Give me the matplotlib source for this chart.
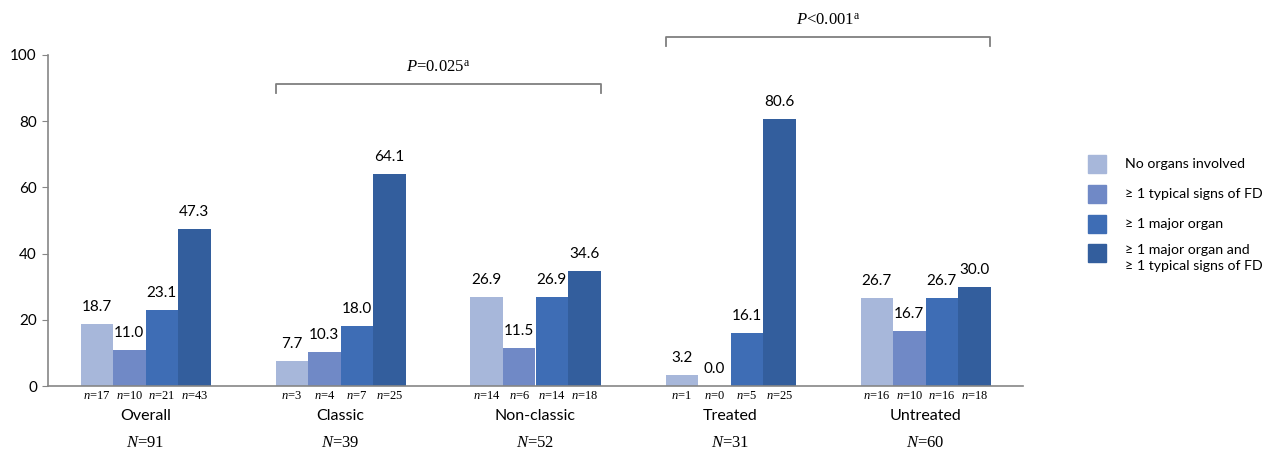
import matplotlib
matplotlib.use("Agg")
import matplotlib.pyplot as plt
from matplotlib.patches import Rectangle
import numpy as np

# ---- data ----
groups = ["Overall", "Classic", "Non-classic", "Treated", "Untreated"]
group_N = [91, 39, 52, 31, 60]
series_names = ["No organs involved", "\u2265 1 typical signs of FD",
                "\u2265 1 major organ", "\u2265 1 major organ and\n\u2265 1 typical signs of FD"]
no_organs = [18.7, 7.7, 26.9, 3.2, 26.7]
typical_signs = [11.0, 10.3, 11.5, 0.0, 16.7]
major_organ = [23.1, 18.0, 26.9, 16.1, 26.7]
major_and_typical = [47.3, 64.1, 34.6, 80.6, 30.0]
n_no_organs = [17, 3, 14, 1, 16]
n_typical = [10, 4, 6, 0, 10]
n_major = [21, 7, 14, 5, 16]
n_both = [43, 25, 18, 25, 18]
p_labels = ["$P$=0.025$^{\\mathrm{a}}$", "$P$<0.001$^{\\mathrm{a}}$"]
p_pairs = [(1, 2), (3, 4)]
y_ticks = [0, 20, 40, 60, 80, 100]

colors = ["#A7B7DA", "#7089C6", "#3E6DB5", "#335E9D"]

plt.rcParams['mathtext.fontset'] = 'custom'
plt.rcParams['mathtext.rm'] = 'Liberation Serif'
plt.rcParams['mathtext.it'] = 'Liberation Serif:italic'
SANS = 'Lato'
SERIF = 'Liberation Serif'

fig = plt.figure(figsize=(12.69, 4.5), dpi=100)
ax = fig.add_axes([48/1269, 64/450, (1023-48)/1269, (386-55)/450])

series = [no_organs, typical_signs, major_organ, major_and_typical]
counts = [n_no_organs, n_typical, n_major, n_both]
x = np.arange(len(groups)) + 0.5
w = 1/6
for i, (vals, cnts) in enumerate(zip(series, counts)):
    pos = x + (i - 1.5) * w
    ax.bar(pos, vals, width=w, color=colors[i], edgecolor='none', zorder=2)
    for p, v, c in zip(pos, vals, cnts):
        ax.annotate(f"{v:.1f}", xy=(p, v), xytext=(0, 17), textcoords='offset pixels',
                    ha='center', va='center', fontsize=11, family=SANS, color='black')
        ax.annotate(f"$n$={c}", xy=(p, 0), xycoords=('data', 'axes fraction'),
                    xytext=(0, -10), textcoords='offset pixels', ha='center', va='center',
                    fontsize=9, family=SERIF, annotation_clip=False)

for xi, g, N in zip(x, groups, group_N):
    ax.annotate(g, xy=(xi, 0), xycoords=('data', 'axes fraction'), xytext=(0, -30),
                textcoords='offset pixels', ha='center', va='center', fontsize=11.5,
                family=SANS, annotation_clip=False)
    ax.annotate(f"$N$={N}", xy=(xi, 0), xycoords=('data', 'axes fraction'), xytext=(0, -57),
                textcoords='offset pixels', ha='center', va='center', fontsize=12,
                family=SERIF, annotation_clip=False)

# significance brackets
bracket_y = [91.2, 105.4]
for (a, b), lab, by in zip(p_pairs, p_labels, bracket_y):
    x0 = x[a] - 2 * w
    x1 = x[b] + 2 * w
    ax.plot([x0, x0, x1, x1], [by - 2.6, by, by, by - 2.6], color='#7F7F7F', lw=1.3,
            clip_on=False, zorder=3)
    ax.text((x0 + x1) / 2, by + 5.0, lab, ha='center', va='center', fontsize=12,
            family=SERIF, clip_on=False)

ax.set_xlim(0, len(groups))
ax.set_ylim(0, 100)
ax.set_yticks(y_ticks)
ax.set_xticks([])
for s in ['top', 'right']:
    ax.spines[s].set_visible(False)
for s in ['left', 'bottom']:
    ax.spines[s].set_color('#868686')
    ax.spines[s].set_linewidth(1.2)
ax.tick_params(axis='y', direction='out', length=4, color='#868686', labelsize=11, pad=4)
for t in ax.get_yticklabels():
    t.set_family(SANS)

# legend (manual)
leg_y = [164, 194, 224, 253]
for c, name, yy in zip(colors, series_names, leg_y):
    fig.patches.append(Rectangle((1088/1269, 1 - (yy + 9)/450), 18/1269, 18/450,
                                 transform=fig.transFigure, color=c, figure=fig))
    if '\n' in name:
        fig.text(1125/1269, 1 - (yy - 9)/450, name, ha='left', va='top', fontsize=10.2,
                 family=SANS, linespacing=1.45)
    else:
        fig.text(1125/1269, 1 - yy/450, name, ha='left', va='center', fontsize=10.2,
                 family=SANS)

fig.savefig("out.png", dpi=100)
